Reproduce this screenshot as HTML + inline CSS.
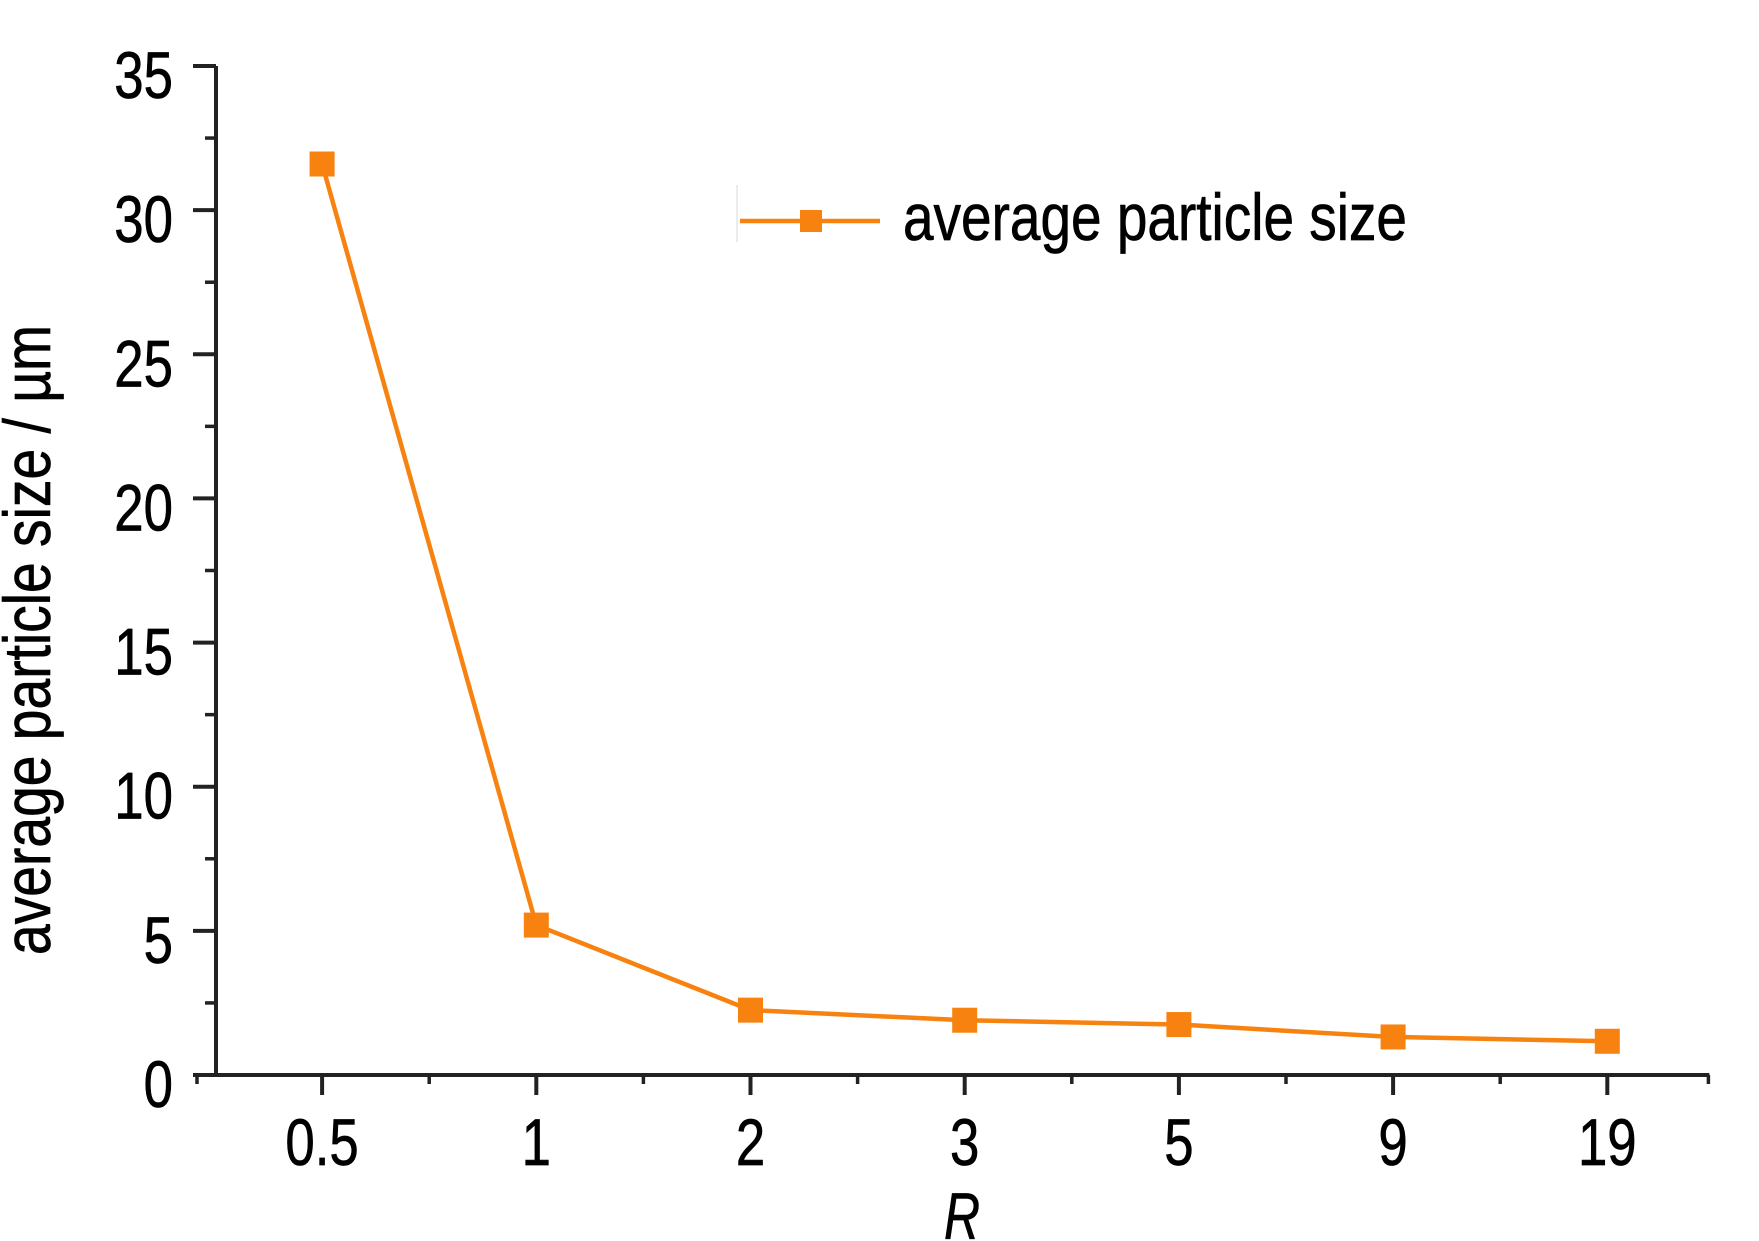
<!DOCTYPE html>
<html><head><meta charset="utf-8"><style>
html,body{margin:0;padding:0;background:#fff;}
svg{display:block;font-family:"Liberation Sans",Arial,sans-serif;}
svg text{stroke:#000;stroke-width:0.7px;}
</style></head><body>
<svg id="chart" width="1759" height="1241" viewBox="0 0 1759 1241" xmlns="http://www.w3.org/2000/svg">
<rect x="0" y="0" width="1759" height="1241" fill="#fff"/>
<g id="axes"></g>
<g id="series"></g>
<text transform="translate(50,640) rotate(-90)" text-anchor="middle" font-size="66" textLength="630" lengthAdjust="spacingAndGlyphs" fill="#000">average particle size / µm</text>
<text x="962" y="1239" text-anchor="middle" font-size="66" font-style="italic" textLength="36" lengthAdjust="spacingAndGlyphs" fill="#000">R</text>
<g>
<line x1="737" y1="185" x2="737" y2="242" stroke="#e4e4e4" stroke-width="1.5"/>
<line x1="740" y1="221" x2="880" y2="221" stroke="#f7820f" stroke-width="4.5"/>
<rect x="800" y="210" width="22" height="22" fill="#f7820f"/>
<text x="903" y="240" font-size="66" textLength="504" lengthAdjust="spacingAndGlyphs" fill="#000">average particle size</text>
</g>
</svg>
<script>
const categories = ["0.5","1","2","3","5","9","19"];
const sizeValues = [31.6, 5.2, 2.25, 1.9, 1.75, 1.32, 1.17];
const yTickLabels = ["0","5","10","15","20","25","30","35"];

const NS = "http://www.w3.org/2000/svg";
const X0 = 216, Y0 = 1075, YTOP = 66, YMAX = 35;
const XSTART = 215, STEP = 214.2;
function yScale(v){ return Y0 - (v / YMAX) * (Y0 - YTOP); }
function xScale(i){ return XSTART + STEP * (i + 0.5); }
function mk(tag, attrs, parent){ const e = document.createElementNS(NS, tag); for (const k in attrs) e.setAttribute(k, attrs[k]); parent.appendChild(e); return e; }
function textWidth(s, fs){ let w = 0; for (const c of s) w += (c === '.' ? 0.278 : 0.556) * fs; return w * 0.8; }

const axes = document.getElementById('axes');
const series = document.getElementById('series');

let yl = mk('line', {x1: X0, y1: YTOP, x2: X0, y2: Y0 + 2, stroke: '#222', 'stroke-width': 4}, axes);


let xl = mk('line', {x1: 193, y1: Y0, x2: XSTART + STEP * categories.length - 5, y2: Y0, stroke: '#222', 'stroke-width': 4}, axes);



yTickLabels.forEach(function(lbl){
  const v = parseFloat(lbl), y = yScale(v);
  const t = mk('line', {x1: X0 - 23, y1: y, x2: X0, y2: y, stroke: '#222', 'stroke-width': 4}, axes);
  
  
  const tx = mk('text', {x: 173, y: y + 32, 'text-anchor': 'end', 'font-size': 66, textLength: textWidth(lbl, 66), lengthAdjust: 'spacingAndGlyphs', fill: '#000'}, axes);
  tx.textContent = lbl;
  
  
  if (v < YMAX) {
    const ym = yScale(v + 2.5);
    const m = mk('line', {x1: X0 - 11, y1: ym, x2: X0, y2: ym, stroke: '#222', 'stroke-width': 3.5}, axes);
    
    
  }
});

for (let i = 0; i <= categories.length; i++) {
  const xb = XSTART + STEP * i + (i === 0 ? -18 : 0) + (i === categories.length ? -6 : 0);
  const m = mk('line', {x1: xb, y1: Y0, x2: xb, y2: Y0 + 9, stroke: '#222', 'stroke-width': 3.5}, axes);
  
  
}
categories.forEach(function(c, i){
  const x = xScale(i);
  const t = mk('line', {x1: x, y1: Y0, x2: x, y2: Y0 + 20, stroke: '#222', 'stroke-width': 4}, axes);
  
  
  const tx = mk('text', {x: x, y: 1165, 'text-anchor': 'middle', 'font-size': 66, textLength: textWidth(c, 66), lengthAdjust: 'spacingAndGlyphs', fill: '#000'}, axes);
  tx.textContent = c;
  
  
});

const pts = sizeValues.map(function(v, i){ return xScale(i) + ',' + yScale(v); }).join(' ');
const pl = mk('polyline', {points: pts, fill: 'none', stroke: '#f7820f', 'stroke-width': 4.5, 'stroke-linejoin': 'round'}, series);


sizeValues.forEach(function(v, i){
  const r = mk('rect', {x: xScale(i) - 12.5, y: yScale(v) - 12.5, width: 25, height: 25, fill: '#f7820f'}, series);
  
  
});
</script>
</body></html>
